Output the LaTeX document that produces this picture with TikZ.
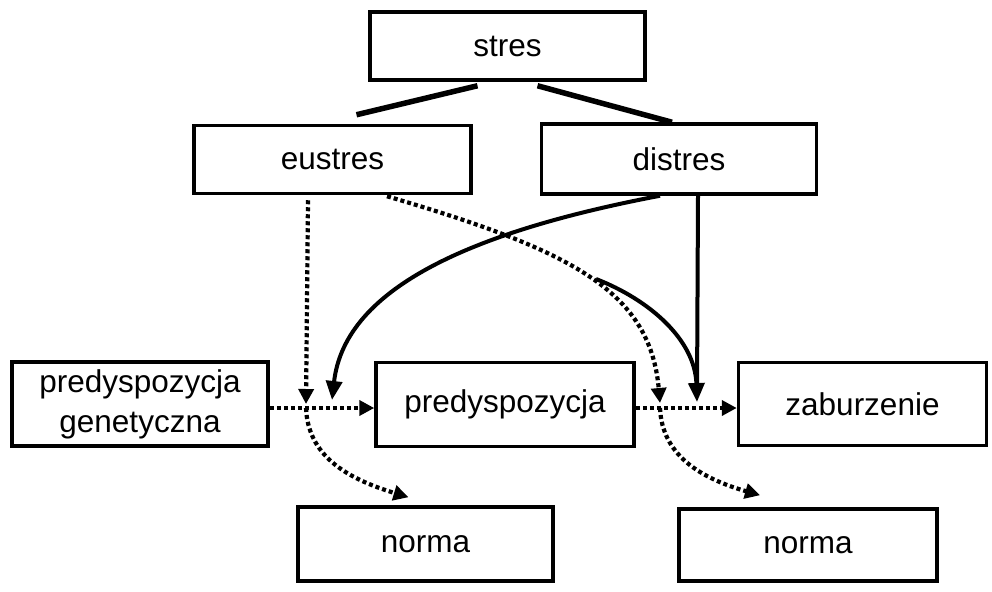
\documentclass[tikz,border=0pt]{standalone}
\usepackage{fontspec}
\setmainfont{Liberation Sans}
\usetikzlibrary{arrows.meta,calc}
\begin{document}
\begin{tikzpicture}[x=1pt,y=-1pt,
  box/.style={draw,line width=3.5pt,rectangle,inner sep=0pt,align=center,
    font=\fontsize{31.5}{40}\selectfont},
  link/.style={line width=5.5pt},
  solidline/.style={line width=4pt},
  solidarrow/.style={line width=4pt,-{Triangle[length=19pt,width=16pt]}},
  dotarrow/.style={line width=4.2pt,dash pattern=on 4pt off 3pt,
    -{Triangle[length=15pt,width=15pt]}}]
\useasboundingbox (0,0) rectangle (992,591);

% boxes
\node[box,minimum width=275pt,minimum height=68pt] (stres)   at (507.5,46)  {stres};
\node[box,minimum width=277pt,minimum height=68pt] (eustres) at (332.5,159.5) {eustres};
\node[box,minimum width=275pt,minimum height=70pt] (distres) at (679,159)   {distres};
\node[box,minimum width=256pt,minimum height=84pt] (predgen) at (140,404)   {predyspozycja\\genetyczna};
\node[box,minimum width=258pt,minimum height=84pt] (pred)    at (505,404.5) {predyspozycja};
\node[box,minimum width=248pt,minimum height=83pt] (zab)     at (862.5,404) {zaburzenie};
\node[box,minimum width=255pt,minimum height=74pt] (norma1)  at (425.5,544) {norma};
\node[box,minimum width=258pt,minimum height=72pt] (norma2)  at (808,545)   {norma};

% meeting points on the horizontal links
\coordinate (j1) at (306,408);
\coordinate (j2) at (660,408);
\coordinate (t1) at (332,400);
\coordinate (t2) at (697,402);
\coordinate (b1) at (596,279);

% stres splits into eustres and distres
\draw[link] ($(stres.south)+(-30,4)$) -- ($(eustres.north)+(24,-9)$);
\draw[link] ($(stres.south)+(30,4)$) -- ($(distres.north)+(-7,0)$);

% eustres paths (dotted)
\draw[dotarrow] ($(eustres.south)+(-24.5,5)$) -- ($(j1)+(0,-4)$);
\draw[dotarrow] ($(eustres.south)+(54.5,1)$) .. controls (570,250) and (650,290) .. ($(j2)+(0,-5)$);

% predisposition chain (dotted)
\draw[dotarrow] ($(predgen.east)+(0,4)$) -- ($(pred.west)+(0,3.5)$);
\draw[dotarrow] ($(pred.east)+(0,3.5)$) -- ($(zab.west)+(0,4)$);
\draw[dotarrow] (j1) .. controls (308,455) and (345,478) .. ($(norma1.north)+(-17,-8)$);
\draw[dotarrow] (j2) .. controls (662,455) and (700,478) .. ($(norma2.north)+(-48,-12)$);

% distres paths (solid)
\draw[solidarrow] ($(distres.south)+(-19,0)$) .. controls (480,230) and (345,285) .. (t1);
\draw[solidline] ($(distres.south)+(19,0)$) -- ($(t2)+(0,-8)$);
\draw[solidarrow] (b1) .. controls (650,300) and (695,340) .. (t2);
\end{tikzpicture}
\end{document}
